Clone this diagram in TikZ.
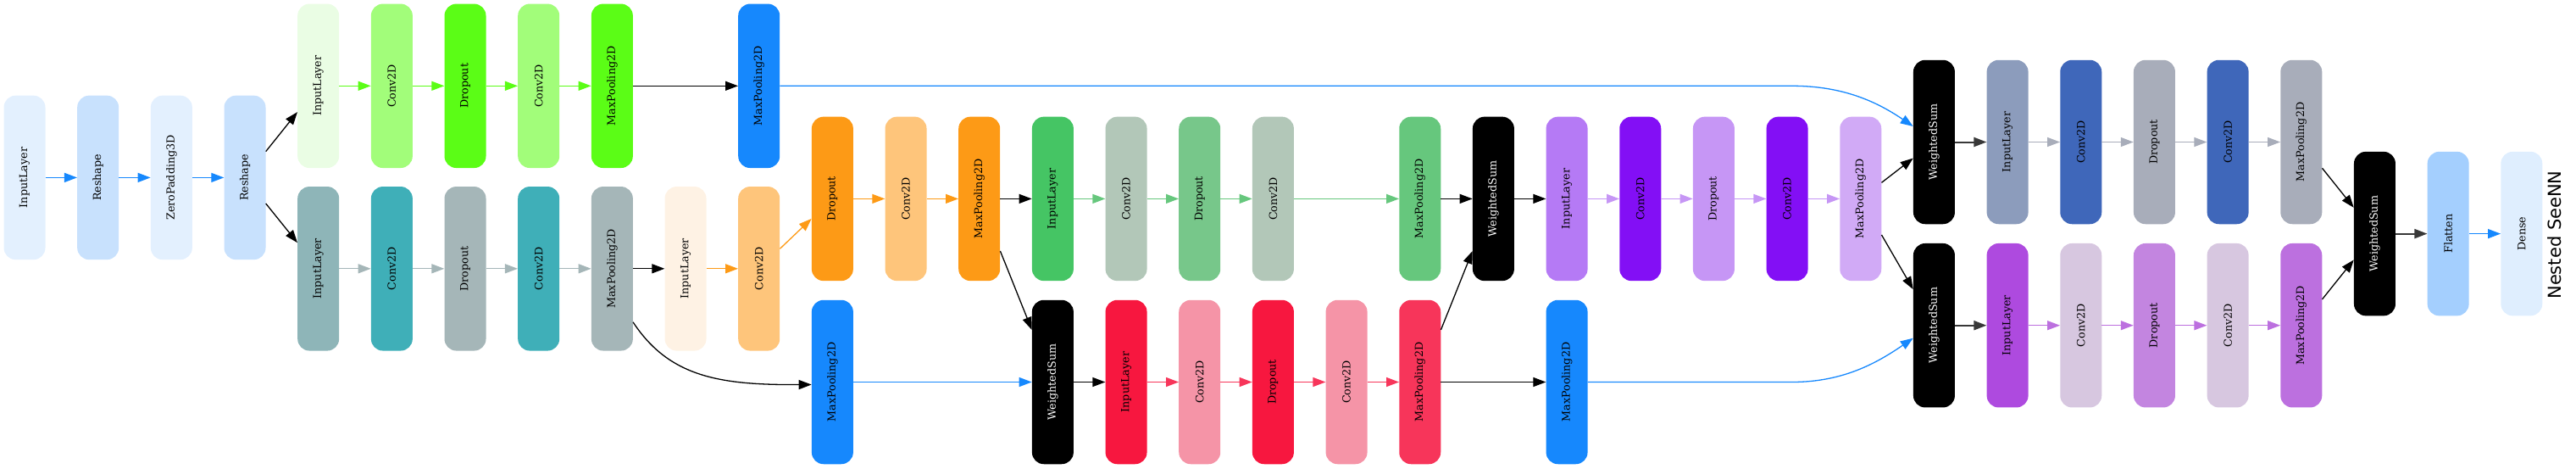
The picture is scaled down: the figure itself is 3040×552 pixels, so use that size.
\documentclass[tikz,border=0pt]{standalone}
\usepackage{fontspec}
\setmainfont{DejaVu Serif}
\newfontfamily\titlefont{DejaVu Sans}
\usetikzlibrary{arrows.meta}
\definecolor{lbA}{HTML}{E3F0FE}
\definecolor{lbB}{HTML}{C8E1FD}
\definecolor{gAa}{HTML}{EAFDE4}
\definecolor{gAb}{HTML}{A2FD7A}
\definecolor{gAc}{HTML}{5BFD16}
\definecolor{tFa}{HTML}{8EB5B8}
\definecolor{tFb}{HTML}{3FAFB8}
\definecolor{tFc}{HTML}{A5B6B8}
\definecolor{oFa}{HTML}{FEF2E4}
\definecolor{oFb}{HTML}{FEC57B}
\definecolor{oFc}{HTML}{FD9A16}
\definecolor{mblue}{HTML}{1688FD}
\definecolor{gDa}{HTML}{45C564}
\definecolor{gDb}{HTML}{B2C7B8}
\definecolor{gDc}{HTML}{77C78A}
\definecolor{gDd}{HTML}{66C77D}
\definecolor{rHa}{HTML}{F7173F}
\definecolor{rHb}{HTML}{F594A7}
\definecolor{rHc}{HTML}{F7355A}
\definecolor{pDa}{HTML}{B57AF5}
\definecolor{pDb}{HTML}{830FF5}
\definecolor{pDc}{HTML}{C696F5}
\definecolor{pDd}{HTML}{D1AAF6}
\definecolor{sBa}{HTML}{8C9CBC}
\definecolor{sBb}{HTML}{3F67BA}
\definecolor{sBc}{HTML}{A8ADBA}
\definecolor{vGa}{HTML}{AE4ADF}
\definecolor{vGb}{HTML}{D7C7E0}
\definecolor{vGc}{HTML}{C385E0}
\definecolor{vGd}{HTML}{BC70DF}
\definecolor{flc}{HTML}{A4CFFE}
\definecolor{dnc}{HTML}{DFEEFE}
\definecolor{dgray}{HTML}{383838}
\def\yA{101.3}
\def\yB{167.5}
\def\yC{209.4}
\def\yD{234.4}
\def\yE{275.6}
\def\yF{316.8}
\def\yG{383.7}
\def\yH{450.5}
\newcommand\lay[6]{\node[layer, fill=#2, text=#3] (#1) at ({29+86.67*#4}, #5) {\rotatebox{90}{#6}};}
\begin{document}
\begin{tikzpicture}[x=1pt,y=-1pt,
  layer/.style={rectangle, rounded corners=14pt, minimum width=49pt, minimum height=193.5pt, inner sep=0pt, font=\fontsize{12.7}{14}\selectfont},
  conn/.style={line width=1.3pt, -{Triangle[length=15pt,width=11pt]}},
  thickconn/.style={line width=2pt, dgray, -{Triangle[length=15pt,width=11pt]}},
  titlestyle/.style={font=\titlefont\fontsize{21}{21}\selectfont, rotate=90, inner sep=0pt}]
\useasboundingbox (0,0) rectangle (3040,552);
% nodes
\lay{C0}{lbA}{black}{0}{\yC}{InputLayer}
\lay{C1}{lbB}{black}{1}{\yC}{Reshape}
\lay{C2}{lbA}{black}{2}{\yC}{ZeroPadding3D}
\lay{C3}{lbB}{black}{3}{\yC}{Reshape}
\lay{A4}{gAa}{black}{4}{\yA}{InputLayer}
\lay{A5}{gAb}{black}{5}{\yA}{Conv2D}
\lay{A6}{gAc}{black}{6}{\yA}{Dropout}
\lay{A7}{gAb}{black}{7}{\yA}{Conv2D}
\lay{A8}{gAc}{black}{8}{\yA}{MaxPooling2D}
\lay{F4}{tFa}{black}{4}{\yF}{InputLayer}
\lay{F5}{tFb}{black}{5}{\yF}{Conv2D}
\lay{F6}{tFc}{black}{6}{\yF}{Dropout}
\lay{F7}{tFb}{black}{7}{\yF}{Conv2D}
\lay{F8}{tFc}{black}{8}{\yF}{MaxPooling2D}
\lay{F9}{oFa}{black}{9}{\yF}{InputLayer}
\lay{F10}{oFb}{black}{10}{\yF}{Conv2D}
\lay{A10}{mblue}{black}{10}{\yA}{MaxPooling2D}
\lay{D11}{oFc}{black}{11}{\yD}{Dropout}
\lay{H11}{mblue}{black}{11}{\yH}{MaxPooling2D}
\lay{D12}{oFb}{black}{12}{\yD}{Conv2D}
\lay{D13}{oFc}{black}{13}{\yD}{MaxPooling2D}
\lay{D14}{gDa}{black}{14}{\yD}{InputLayer}
\lay{H14}{black}{white}{14}{\yH}{WeightedSum}
\lay{D15}{gDb}{black}{15}{\yD}{Conv2D}
\lay{H15}{rHa}{black}{15}{\yH}{InputLayer}
\lay{D16}{gDc}{black}{16}{\yD}{Dropout}
\lay{H16}{rHb}{black}{16}{\yH}{Conv2D}
\lay{D17}{gDb}{black}{17}{\yD}{Conv2D}
\lay{H17}{rHa}{black}{17}{\yH}{Dropout}
\lay{H18}{rHb}{black}{18}{\yH}{Conv2D}
\lay{D19}{gDd}{black}{19}{\yD}{MaxPooling2D}
\lay{H19}{rHc}{black}{19}{\yH}{MaxPooling2D}
\lay{D20}{black}{white}{20}{\yD}{WeightedSum}
\lay{D21}{pDa}{black}{21}{\yD}{InputLayer}
\lay{H21}{mblue}{black}{21}{\yH}{MaxPooling2D}
\lay{D22}{pDb}{black}{22}{\yD}{Conv2D}
\lay{D23}{pDc}{black}{23}{\yD}{Dropout}
\lay{D24}{pDb}{black}{24}{\yD}{Conv2D}
\lay{D25}{pDd}{black}{25}{\yD}{MaxPooling2D}
\lay{B26}{black}{white}{26}{\yB}{WeightedSum}
\lay{G26}{black}{white}{26}{\yG}{WeightedSum}
\lay{B27}{sBa}{black}{27}{\yB}{InputLayer}
\lay{B28}{sBb}{black}{28}{\yB}{Conv2D}
\lay{B29}{sBc}{black}{29}{\yB}{Dropout}
\lay{B30}{sBb}{black}{30}{\yB}{Conv2D}
\lay{B31}{sBc}{black}{31}{\yB}{MaxPooling2D}
\lay{G27}{vGa}{black}{27}{\yG}{InputLayer}
\lay{G28}{vGb}{black}{28}{\yG}{Conv2D}
\lay{G29}{vGc}{black}{29}{\yG}{Dropout}
\lay{G30}{vGb}{black}{30}{\yG}{Conv2D}
\lay{G31}{vGd}{black}{31}{\yG}{MaxPooling2D}
\lay{E32}{black}{white}{32}{\yE}{WeightedSum}
\lay{E33}{flc}{black}{33}{\yE}{Flatten}
\lay{E34}{dnc}{black}{34}{\yE}{Dense}
\node[titlestyle] (title) at (3015,277) {Nested SeeNN};
% free points of the curved connectors
\coordinate (k1) at (2115,\yA);
\coordinate (k2) at (2115,\yH);
% blue connectors
\draw[conn, mblue] (C0) -- (C1);
\draw[conn, mblue] (C1) -- (C2);
\draw[conn, mblue] (C2) -- (C3);
\draw[conn, mblue] (H11) -- (H14);
\draw[conn, mblue] (E33) -- (E34);
\draw[conn, mblue] (A10) -- (k1) .. controls (2175,\yA) and (2215,120) .. ([yshift=18.5pt]B26.west);
\draw[conn, mblue] (H21) -- (k2) .. controls (2175,\yH) and (2215,428) .. ([yshift=-15pt]G26.west);
% black connectors
\draw[conn, black] (C3) -- (A4);
\draw[conn, black] (C3) -- (F4);
\draw[conn, black] (A8) -- (A10);
\draw[conn, black] (F8) -- (F9);
\draw[conn, black] ([yshift=-63pt]F8.east) .. controls (790,445) and (850,454) .. ([yshift=-3pt]H11.west);
\draw[conn, black] (D13) -- (D14);
\draw[conn, black] (D13) -- (H14);
\draw[conn, black] (D19) -- (D20);
\draw[conn, black] (H14) -- (H15);
\draw[conn, black] (H19) -- (D20);
\draw[conn, black] (H19) -- (H21);
\draw[conn, black] (D20) -- (D21);
\draw[conn, black] (D25) -- (B26);
\draw[conn, black] (D25) -- (G26);
\draw[conn, black] (B31) -- (E32);
\draw[conn, black] (G31) -- (E32);
\draw[thickconn] (B26) -- (B27);
\draw[thickconn] (G26) -- (G27);
\draw[thickconn] (E32) -- (E33);
% chain connectors
\draw[conn, gAc] (A4) -- (A5);
\draw[conn, gAc] (A5) -- (A6);
\draw[conn, gAc] (A6) -- (A7);
\draw[conn, gAc] (A7) -- (A8);
\draw[conn, tFc] (F4) -- (F5);
\draw[conn, tFc] (F5) -- (F6);
\draw[conn, tFc] (F6) -- (F7);
\draw[conn, tFc] (F7) -- (F8);
\draw[conn, oFc] (F9) -- (F10);
\draw[conn, oFc] (F10) -- (D11);
\draw[conn, oFc] (D11) -- (D12);
\draw[conn, oFc] (D12) -- (D13);
\draw[conn, gDd] (D14) -- (D15);
\draw[conn, gDd] (D15) -- (D16);
\draw[conn, gDd] (D16) -- (D17);
\draw[conn, gDd] (D17) -- (D19);
\draw[conn, rHc] (H15) -- (H16);
\draw[conn, rHc] (H16) -- (H17);
\draw[conn, rHc] (H17) -- (H18);
\draw[conn, rHc] (H18) -- (H19);
\draw[conn, pDc] (D21) -- (D22);
\draw[conn, pDc] (D22) -- (D23);
\draw[conn, pDc] (D23) -- (D24);
\draw[conn, pDc] (D24) -- (D25);
\draw[conn, sBc] (B27) -- (B28);
\draw[conn, sBc] (B28) -- (B29);
\draw[conn, sBc] (B29) -- (B30);
\draw[conn, sBc] (B30) -- (B31);
\draw[conn, vGd] (G27) -- (G28);
\draw[conn, vGd] (G28) -- (G29);
\draw[conn, vGd] (G29) -- (G30);
\draw[conn, vGd] (G30) -- (G31);
\end{tikzpicture}
\end{document}
